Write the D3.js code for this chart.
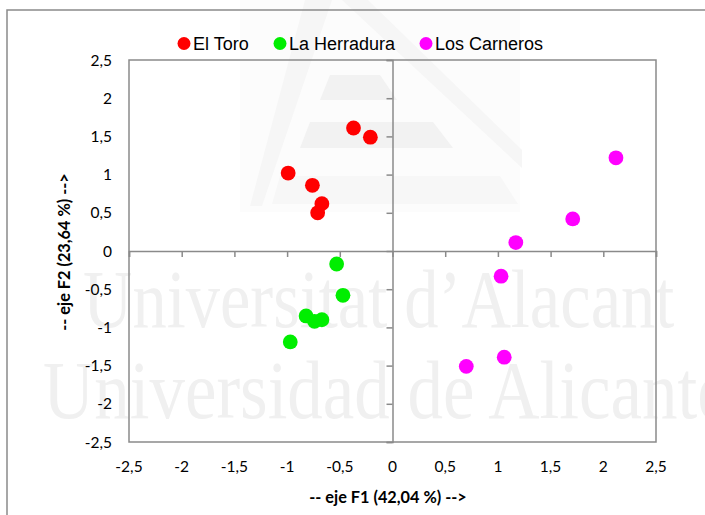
<!DOCTYPE html>
<html>
<head>
<meta charset="utf-8">
<script src="https://cdn.jsdelivr.net/npm/d3@7"></script>
<style>
  html, body { margin: 0; padding: 0; background: #fff; }
  svg { display: block; }
</style>
</head>
<body>
<svg id="chart" width="705" height="515"></svg>
<script>
// Factor scores of each sample on the first two axes
const seriesNames = ["El Toro", "La Herradura", "Los Carneros"];
const seriesColors = ["#ff0000", "#00ee00", "#ff00ff"];

const elToroX = [-0.37, -0.21, -0.99, -0.76, -0.67, -0.71];
const elToroY = [1.61, 1.49, 1.02, 0.86, 0.62, 0.50];

const herraduraX = [-0.53, -0.47, -0.82, -0.74, -0.67, -0.97];
const herraduraY = [-0.17, -0.58, -0.85, -0.92, -0.90, -1.19];

const carnerosX = [2.12, 1.71, 1.17, 1.03, 1.06, 0.70];
const carnerosY = [1.22, 0.42, 0.11, -0.33, -1.39, -1.51];

const tickValues = [-2.5, -2, -1.5, -1, -0.5, 0, 0.5, 1, 1.5, 2, 2.5];
const tickLabels = ["-2,5", "-2", "-1,5", "-1", "-0,5", "0", "0,5", "1", "1,5", "2", "2,5"];

const xTitle = "-- eje F1 (42,04 %) -->";
const yTitle = "-- eje F2 (23,64 %) -->";

const series = [
  { name: seriesNames[0], color: seriesColors[0], xs: elToroX, ys: elToroY },
  { name: seriesNames[1], color: seriesColors[1], xs: herraduraX, ys: herraduraY },
  { name: seriesNames[2], color: seriesColors[2], xs: carnerosX, ys: carnerosY }
];

const svg = d3.select("#chart");
const plot = { left: 129, right: 656, top: 60, bottom: 442 };

const x = d3.scaleLinear().domain([-2.5, 2.5]).range([plot.left, plot.right]);
const y = d3.scaleLinear().domain([-2.5, 2.5]).range([plot.bottom, plot.top]);

const axisGray = "#8a8a8a";
const labelFont = "Lato, 'Open Sans', sans-serif";

// Background
svg.append("rect").attr("width", 705).attr("height", 515).attr("fill", "#fff");

// Faint institutional emblem behind the chart
const emblem = svg.append("g").attr("fill", "#f6f6f6");
emblem.append("polygon").attr("points", "240,0 520,0 520,212 240,212").attr("fill", "#fcfcfc");
emblem.append("polygon").attr("points", "305,0 332,0 262,206 250,206");
emblem.append("polygon").attr("points", "342,0 368,0 522,150 522,168");
emblem.append("polygon").attr("points", "330,75 380,75 397,100 320,100").attr("fill", "#f2f2f2");
emblem.append("polygon").attr("points", "310,122 433,122 453,148 300,148").attr("fill", "#f2f2f2");
emblem.append("polygon").attr("points", "280,176 500,176 518,204 272,204").attr("fill", "#f7f7f7");

// Watermark lettering
const wm = svg.append("g")
  .attr("fill", "#f0f0f0")
  .attr("font-family", "'Liberation Serif', 'Times New Roman', serif")
  .attr("font-size", 83);
wm.append("text")
  .attr("transform", "translate(83,327) scale(0.825,1)")
  .text("Universitat d\u2019Alacant");
wm.append("text")
  .attr("transform", "translate(43,418) scale(0.855,1)")
  .text("Universidad de Alicante");

// Outer chart frame
svg.append("rect")
  .attr("x", 7).attr("y", 10).attr("width", 720).attr("height", 530)
  .attr("fill", "none").attr("stroke", axisGray).attr("stroke-width", 1.5);

// Plot frame
svg.append("rect")
  .attr("x", plot.left).attr("y", plot.top)
  .attr("width", plot.right - plot.left).attr("height", plot.bottom - plot.top)
  .attr("fill", "none").attr("stroke", axisGray).attr("stroke-width", 1.5);

// Horizontal axis through y = 0, ticks pointing down
const xAxis = d3.axisBottom(x).tickValues(tickValues).tickSize(6).tickFormat("");
const gx = svg.append("g").attr("transform", `translate(0,${y(0)})`).call(xAxis);
gx.select(".domain").attr("stroke", axisGray).attr("stroke-width", 1.5);
gx.selectAll(".tick line").attr("stroke", axisGray).attr("stroke-width", 1.5);

// Vertical axis through x = 0, ticks pointing left
const yAxis = d3.axisLeft(y).tickValues(tickValues).tickSize(6).tickFormat("");
const gy = svg.append("g").attr("transform", `translate(${x(0)},0)`).call(yAxis);
gy.select(".domain").attr("stroke", axisGray).attr("stroke-width", 1.5);
gy.selectAll(".tick line").attr("stroke", axisGray).attr("stroke-width", 1.5);

// Tick labels along the bottom and left of the plot
svg.append("g").selectAll("text")
  .data(tickValues)
  .join("text")
  .attr("x", d => x(d))
  .attr("y", 472)
  .attr("text-anchor", "middle")
  .attr("font-family", labelFont)
  .attr("font-size", 15.5)
  .attr("fill", "#000")
  .text((d, i) => tickLabels[i]);

svg.append("g").selectAll("text")
  .data(tickValues)
  .join("text")
  .attr("x", 112)
  .attr("y", d => y(d) + 5.5)
  .attr("text-anchor", "end")
  .attr("font-family", labelFont)
  .attr("font-size", 15.5)
  .attr("fill", "#000")
  .text((d, i) => tickLabels[i]);

// Axis titles
svg.append("text")
  .attr("x", 388).attr("y", 503)
  .attr("text-anchor", "middle")
  .attr("font-family", labelFont)
  .attr("font-weight", "bold")
  .attr("font-size", 16.3)
  .text(xTitle);

svg.append("text")
  .attr("transform", "translate(70,252) rotate(-90)")
  .attr("text-anchor", "middle")
  .attr("font-family", labelFont)
  .attr("font-weight", "bold")
  .attr("font-size", 16.3)
  .text(yTitle);

// Points
series.forEach(s => {
  svg.append("g").selectAll("circle")
    .data(s.xs.map((v, i) => [v, s.ys[i]]))
    .join("circle")
    .attr("cx", d => x(d[0]))
    .attr("cy", d => y(d[1]))
    .attr("r", 7.4)
    .attr("fill", s.color);
});

// Legend
const legendPos = [184, 280, 426];
const legend = svg.append("g");
series.forEach((s, i) => {
  legend.append("circle")
    .attr("cx", legendPos[i]).attr("cy", 43.5).attr("r", 6.5)
    .attr("fill", s.color);
  legend.append("text")
    .attr("x", legendPos[i] + 9).attr("y", 50)
    .attr("font-family", "'Liberation Sans', Arial, sans-serif")
    .attr("font-size", 18)
    .attr("fill", "#000")
    .text(s.name);
});
</script>
</body>
</html>
